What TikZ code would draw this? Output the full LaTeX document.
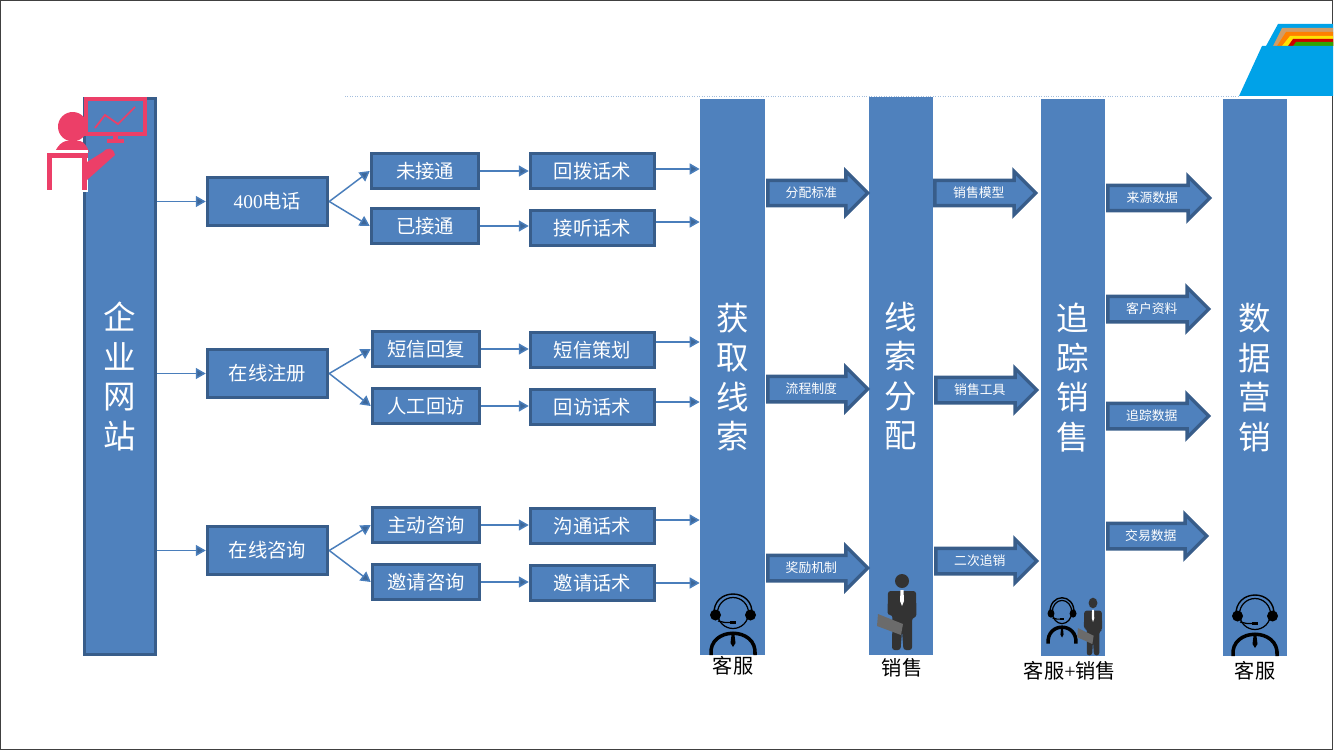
\documentclass[tikz,border=0pt]{standalone}
\usepackage{fontspec}
\setmainfont{Noto Sans CJK SC}
\newfontfamily\latinserif{Liberation Serif}
\usetikzlibrary{arrows.meta,shapes.arrows}
\definecolor{barblue}{HTML}{4F81BD}
\definecolor{edgeblue}{HTML}{385D8A}
\definecolor{linkblue}{HTML}{4A7EBB}
\definecolor{pinkred}{HTML}{EC3F68}
\definecolor{logoblue}{HTML}{00A2E8}
\tikzset{
  bar/.style={fill=barblue,text=white,align=center,font=\fontsize{18.5}{22.5}\selectfont,inner sep=0pt},
  box/.style={draw=edgeblue,fill=barblue,line width=3.5*0.02cm,text=white,inner sep=0pt,font=\fontsize{11}{12}\selectfont},
  lvlone/.style={box,minimum width=2.4cm,minimum height=.96cm},
  lvltwo/.style={box,minimum width=2.14cm,minimum height=.7cm},
  lvlthree/.style={box,minimum width=2.48cm,minimum height=.7cm},
  link/.style={draw=linkblue,line width=.85pt,-{Triangle[length=.2cm,width=.22cm,fill=edgeblue!70!linkblue]}},
  flow/.style={single arrow,draw=edgeblue,fill=barblue,line width=3.5*0.02cm,text=white,anchor=tail,
    single arrow head extend=.18cm,minimum width=.8cm,inner ysep=.08cm,inner xsep=0pt,
    text height=.22cm,text depth=.06cm,font=\fontsize{7.3}{8}\selectfont},
  caption/.style={text=black,inner sep=0pt,font=\fontsize{11.5}{13}\selectfont},
  agent/.pic={
    \draw[black,line width=.7pt] (0,0) circle (15.5);
    \draw[black,line width=.8pt] (-19,2) .. controls (-21,-26) and (21,-26) .. (19,2);
    \fill[black] (-17.5,2) circle (5.5) (17.5,2) circle (5.5);
    \draw[black,line width=.7pt] (-15,8) -- (-8,9.5) -- (0,9.5);
    \fill[black] (-3,7.5) rectangle (3,10.5);
    \draw[black,line width=2pt] (-22,42) .. controls (-25,13) and (25,13) .. (22,42);
    \fill[black] (-2,20) -- (2,20) -- (1.5,22) -- (2.5,30) -- (0,34) -- (-2.5,30) -- (-1.5,22) -- cycle;
  },
  seller/.pic={
    \fill[black!80,rounded corners=1.5pt] (-14,10) -- (14,10) -- (14.5,36) -- (10,37) -- (10,69) -- (1.5,69) -- (0,50) -- (-1.5,69) -- (-10,69) -- (-9.5,34) -- (-14.5,34) -- cycle;
    \fill[black!80] (0,0) circle (7);
    \fill[white] (-1.5,9) -- (1.5,9) -- (2,20) -- (0,25) -- (-2,20) -- cycle;
    \fill[black!58] (-24,33) -- (1,43) -- (-1,54) -- (-25,45) -- cycle;
  }
}
\begin{document}
\begin{tikzpicture}[x=.02cm,y=-.02cm]
\useasboundingbox (0,0) rectangle (1334,750);
\draw[black!75,line width=.8pt] (0.5,0.5) rectangle (1332.5,749.5);

% logo
\fill[logoblue] (1266,46) -- (1278,24) -- (1333,24) -- (1333,46) -- cycle;
\fill[black!30!orange!60!white] (1273,46) -- (1282,28) -- (1333,28) -- (1333,46) -- cycle;
\fill[orange] (1277,46) -- (1286,32) -- (1333,32) -- (1333,46) -- cycle;
\fill[yellow!85!orange] (1282,46) -- (1290,36) -- (1333,36) -- (1333,46) -- cycle;
\fill[red!80!black] (1288,46) -- (1293,39) -- (1333,39) -- (1333,46) -- cycle;
\fill[green!55!black!80!yellow] (1293,46) -- (1296,42) -- (1333,42) -- (1333,46) -- cycle;
\fill[logoblue] (1239,96) -- (1262,46) -- (1333,46) -- (1333,96) -- cycle;
\draw[linkblue!50,densely dotted,line width=.4pt] (345,96) -- (1239,96);

% bars
\node[bar,draw=edgeblue,line width=3*0.02cm,minimum width=1.42cm,minimum height=11.12cm] (web) at (120,376.5) {企\\业\\网\\站};
\node[bar,minimum width=1.3cm,minimum height=11.12cm] (lead) at (732.5,377) {获\\取\\线\\索};
\node[bar,minimum width=1.28cm,minimum height=11.16cm] (alloc) at (901,376) {线\\索\\分\\配};
\node[bar,minimum width=1.28cm,minimum height=11.14cm] (track) at (1073,377.5) {追\\踪\\销\\售};
\node[bar,minimum width=1.28cm,minimum height=11.14cm] (data) at (1255,377.5) {数\\据\\营\\销};

% first row
\node[lvlone] (tel) at (267.5,201.5) {{\latinserif 400}电话};
\node[lvltwo] (miss) at (425,171) {未接通};
\node[lvltwo] (conn) at (425,226) {已接通};
\node[lvlthree] (redial) at (592.5,171) {回拨话术};
\node[lvlthree] (answer) at (592.5,228) {接听话术};
\coordinate (rowa) at (0,169);
\coordinate (rowb) at (0,222);

% second row
\node[lvlone] (reg) at (267.5,373.5) {在线注册};
\node[lvltwo] (sms) at (426,349) {短信回复};
\node[lvltwo] (man) at (426,406) {人工回访};
\node[lvlthree] (plan) at (592.5,350) {短信策划};
\node[lvlthree] (visit) at (592.5,407) {回访话术};
\coordinate (rowc) at (0,342);
\coordinate (rowd) at (0,402);

% third row
\node[lvlone] (ask) at (267.5,550.5) {在线咨询};
\node[lvltwo] (act) at (426,525) {主动咨询};
\node[lvltwo] (inv) at (426,582) {邀请咨询};
\node[lvlthree] (talk) at (592.5,526) {沟通话术};
\node[lvlthree] (invt) at (592.5,583) {邀请话术};
\coordinate (rowe) at (0,520);
\coordinate (rowf) at (0,583);

\draw[link] (web.east |- tel.west) -- (tel.west);
\draw[link] (tel.east) -- (miss.west);
\draw[link] (tel.east) -- (conn.west);
\draw[link] (miss.east) -- (redial.west);
\draw[link] (conn.east) -- (answer.west |- conn.east);
\draw[link] (redial.east |- rowa) -- (lead.west |- rowa);
\draw[link] (answer.east |- rowb) -- (lead.west |- rowb);

\draw[link] (web.east |- reg.west) -- (reg.west);
\draw[link] (reg.east) -- (sms.west);
\draw[link] (reg.east) -- (man.west);
\draw[link] (sms.east) -- (plan.west |- sms.east);
\draw[link] (man.east) -- (visit.west |- man.east);
\draw[link] (plan.east |- rowc) -- (lead.west |- rowc);
\draw[link] (visit.east |- rowd) -- (lead.west |- rowd);

\draw[link] (web.east |- ask.west) -- (ask.west);
\draw[link] (ask.east) -- (act.west);
\draw[link] (ask.east) -- (inv.west);
\draw[link] (act.east) -- (talk.west |- act.east);
\draw[link] (inv.east) -- (invt.west |- inv.east);
\draw[link] (talk.east |- rowe) -- (lead.west |- rowe);
\draw[link] (invt.east |- rowf) -- (lead.west |- rowf);

% block arrows
\node[flow,minimum height=2.0cm] (fa) at (766,193) {分配标准};
\node[flow,minimum height=2.0cm] (fb) at (766,389) {流程制度};
\node[flow,minimum height=2.0cm] (fc) at (766,568) {奖励机制};
\node[flow,minimum height=2.02cm] (fd) at (933,193) {销售模型};
\node[flow,minimum height=2.02cm] (fe) at (934,390) {销售工具};
\node[flow,minimum height=2.02cm] (ff) at (934,561) {二次追销};
\node[flow,minimum height=2.04cm] (fg) at (1106,198) {来源数据};
\node[flow,minimum height=2.02cm] (fh) at (1106,309) {客户资料};
\node[flow,minimum height=2.02cm] (fi) at (1106,416) {追踪数据};
\node[flow,minimum height=1.98cm] (fj) at (1106,536) {交易数据};

% people
\pic at (733,613) {agent};
\pic at (902,581) {seller};
\pic[xscale=.63,yscale=.75] at (1062,612) {agent};
\pic[xscale=.63,yscale=.76] at (1093,603) {seller};
\pic at (1255,614) {agent};
\node[caption] (capa) at (733,666) {客服};
\node[caption] (capb) at (902,668) {销售};
\node[caption] (capc) at (1070,671) {客服{\latinserif +}销售};
\node[caption] (capd) at (1255,671) {客服};

% presenter
\fill[pinkred] (72.7,126.7) circle (14.7);
\fill[pinkred] (55,152) .. controls (58,145) and (62,142) .. (66,141) -- (80,141) .. controls (84,142) and (87,146) .. (89,152) -- cycle;
\fill[white] (44,150) rectangle (88,192);
\fill[pinkred] (47,153) rectangle (88,158);
\fill[pinkred] (47,153) rectangle (52,190);
\fill[pinkred] (82,153) rectangle (87,190);
\fill[pinkred] (87,162) -- (103,152) .. controls (108,147) and (113,147) .. (115,155) -- (87,180) -- cycle;
\draw[pinkred,line width=3.5*0.02cm] (86,99) rectangle (145,134);
\draw[pinkred,line width=1pt] (95,128) -- (105,115) -- (118,124) -- (135,107);
\fill[pinkred] (113,135) rectangle (118,139);
\fill[pinkred] (107,139) rectangle (124,143);
\end{tikzpicture}
\end{document}
